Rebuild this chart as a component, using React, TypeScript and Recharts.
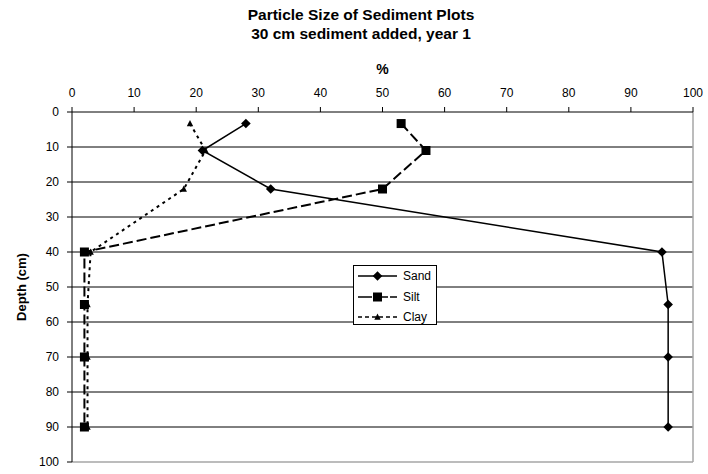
import { ScatterChart, Scatter, XAxis, YAxis, CartesianGrid, ReferenceLine, Legend } from 'recharts';

// Particle-size profile: percent of each fraction against sampling depth
const depths = [3.3, 11, 22, 40, 55, 70, 90];
const sand = [28, 21, 32, 95, 96, 96, 96];
const silt = [53, 57, 50, 2, 2, 2, 2];
const clay = [19, 21.5, 18, 3, 2.5, 2.5, 2.5];

const pctTicks = [0, 10, 20, 30, 40, 50, 60, 70, 80, 90, 100];
const depthTicks = [0, 10, 20, 30, 40, 50, 60, 70, 80, 90, 100];
const gridDepths = [10, 20, 30, 40, 50, 60, 70, 80, 90];

const FONT = '"Liberation Sans", Arial, Helvetica, sans-serif';

const toPoints = (vals: number[]) => vals.map((v, i) => ({ pct: v, depth: depths[i] }));

type MarkerProps = { cx?: number; cy?: number };

function Diamond({ cx = 0, cy = 0 }: MarkerProps) {
  const r = 4.8;
  return <path d={`M${cx},${cy - r}L${cx + r},${cy}L${cx},${cy + r}L${cx - r},${cy}Z`} fill="#000" />;
}

function Square({ cx = 0, cy = 0 }: MarkerProps) {
  const r = 4.5;
  return <rect x={cx - r} y={cy - r} width={r * 2} height={r * 2} fill="#000" />;
}

function Triangle({ cx = 0, cy = 0 }: MarkerProps) {
  return <path d={`M${cx},${cy - 3.5}L${cx + 3.2},${cy + 2.8}L${cx - 3.2},${cy + 2.8}Z`} fill="#000" />;
}

// legend rows: line sample dash pattern and marker per fraction
const series = [
  { name: 'Sand', dash: undefined as string | undefined, Marker: Diamond },
  { name: 'Silt', dash: '14 2', Marker: Square },
  { name: 'Clay', dash: '4 3', Marker: Triangle },
];

function LegendBox() {
  return (
    <div
      style={{
        width: 84,
        height: 60,
        boxSizing: 'border-box',
        border: '1px solid #000',
        background: '#fff',
        fontFamily: FONT,
        fontSize: 12,
        position: 'relative',
      }}
    >
      {series.map((s, i) => (
        <div key={s.name} style={{ position: 'absolute', left: 0, top: 1 + i * 20.5, height: 18, display: 'flex', alignItems: 'center' }}>
          <svg width={48} height={18}>
            <line x1={4} y1={9} x2={43} y2={9} stroke="#000" strokeWidth={1.5} strokeDasharray={s.dash} />
            <s.Marker cx={23.5} cy={9} />
          </svg>
          <span style={{ marginLeft: 1, color: '#000' }}>{s.name}</span>
        </div>
      ))}
    </div>
  );
}

function DepthLabel(props: any) {
  const { x, y, height } = props.viewBox;
  const lx = x + 21;
  const ly = y + height / 2;
  return (
    <text
      x={lx}
      y={ly}
      transform={`rotate(-90 ${lx} ${ly})`}
      textAnchor="middle"
      dominantBaseline="central"
      fontFamily={FONT}
      fontSize={13}
      fontWeight="bold"
      fill="#000"
    >
      Depth (cm)
    </text>
  );
}

export default function App() {
  const titleStyle = {
    position: 'absolute' as const,
    left: 0,
    width: 722,
    textAlign: 'center' as const,
    fontFamily: FONT,
    fontWeight: 'bold' as const,
    fontSize: 15.5,
    lineHeight: '15px',
    color: '#000',
  };
  return (
    <div style={{ position: 'absolute', left: 0, top: 0, width: 708, height: 474, background: '#fff' }}>
      <div style={{ ...titleStyle, top: 7 }}>Particle Size of Sediment Plots</div>
      <div style={{ ...titleStyle, top: 26 }}>30 cm sediment added, year 1</div>
      <ScatterChart width={708} height={474} margin={{ top: 82, right: 15, bottom: 12, left: 0 }}>
        <CartesianGrid vertical={false} horizontalValues={gridDepths} stroke="#000" strokeWidth={1} />
        <ReferenceLine x={100} stroke="#a6a6a6" strokeWidth={1.5} />
        <ReferenceLine y={100} stroke="#a6a6a6" strokeWidth={1.5} />
        <XAxis
          type="number"
          dataKey="pct"
          orientation="top"
          domain={[0, 100]}
          ticks={pctTicks}
          height={30}
          tickSize={5}
          tickMargin={10}
          axisLine={{ stroke: '#000' }}
          tickLine={{ stroke: '#000' }}
          tick={{ fontSize: 12, fill: '#000', fontFamily: FONT }}
          label={{ value: '%', position: 'top', offset: 8, fontSize: 14, fontWeight: 'bold', fill: '#000', fontFamily: FONT }}
        />
        <YAxis
          type="number"
          dataKey="depth"
          reversed
          domain={[0, 100]}
          ticks={depthTicks}
          width={72}
          tickSize={5}
          tickMargin={8}
          axisLine={{ stroke: '#000' }}
          tickLine={{ stroke: '#000' }}
          tick={{ fontSize: 12, fill: '#000', fontFamily: FONT }}
          label={{ content: DepthLabel }}
        />
        <Legend
          layout="vertical"
          align="center"
          verticalAlign="middle"
          content={<LegendBox />}
          wrapperStyle={{ left: 353, top: 265, width: 84, height: 60 }}
        />
        <Scatter
          name="Clay"
          data={toPoints(clay)}
          fill="#000"
          line={{ stroke: '#000', strokeWidth: 2, strokeDasharray: '3 4' }}
          shape={(p: any) => <Triangle cx={p.cx} cy={p.cy} />}
          isAnimationActive={false}
        />
        <Scatter
          name="Silt"
          data={toPoints(silt)}
          fill="#000"
          line={{ stroke: '#000', strokeWidth: 2, strokeDasharray: '10 4' }}
          shape={(p: any) => <Square cx={p.cx} cy={p.cy} />}
          isAnimationActive={false}
        />
        <Scatter
          name="Sand"
          data={toPoints(sand)}
          fill="#000"
          line={{ stroke: '#000', strokeWidth: 1.5 }}
          shape={(p: any) => <Diamond cx={p.cx} cy={p.cy} />}
          isAnimationActive={false}
        />
      </ScatterChart>
    </div>
  );
}
